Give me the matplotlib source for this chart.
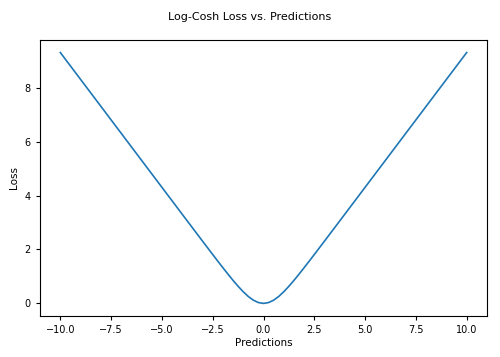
import matplotlib
matplotlib.use("Agg")
import matplotlib.pyplot as plt

# points (symmetric around 0)
predictions = [-10.0, -9.0, -8.0, -7.0, -6.0, -5.0, -4.0, -3.5, -3.0, -2.5, -2.25, -2.0,
               -1.75, -1.5, -1.25, -1.0, -0.75, -0.5, -0.25, 0.0,
               0.25, 0.5, 0.75, 1.0, 1.25, 1.5, 1.75, 2.0, 2.25, 2.5, 3.0, 3.5,
               4.0, 5.0, 6.0, 7.0, 8.0, 9.0, 10.0]
loss = [9.307, 8.307, 7.307, 6.307, 5.307, 4.307, 3.307, 2.808, 2.309, 1.814, 1.568, 1.325,
        1.087, 0.855, 0.636, 0.434, 0.258, 0.120, 0.031, 0.0,
        0.031, 0.120, 0.258, 0.434, 0.636, 0.855, 1.087, 1.325, 1.568, 1.814, 2.309, 2.808,
        3.307, 4.307, 5.307, 6.307, 7.307, 8.307, 9.307]

plt.rcParams['font.size'] = 7.5

fig = plt.figure(figsize=(5.0, 3.57), dpi=100)
ax = fig.add_axes([0.08, 0.115, 0.894, 0.773])
ax.plot(predictions, loss, color='#1f77b4', linewidth=1.2)
ax.set_xlabel('Predictions', labelpad=2)
ax.set_ylabel('Loss', labelpad=4)
fig.suptitle('Log-Cosh Loss vs. Predictions', y=0.965, fontsize=8)
ax.tick_params(labelsize=7, length=3)

plt.savefig('out.png', dpi=100)
